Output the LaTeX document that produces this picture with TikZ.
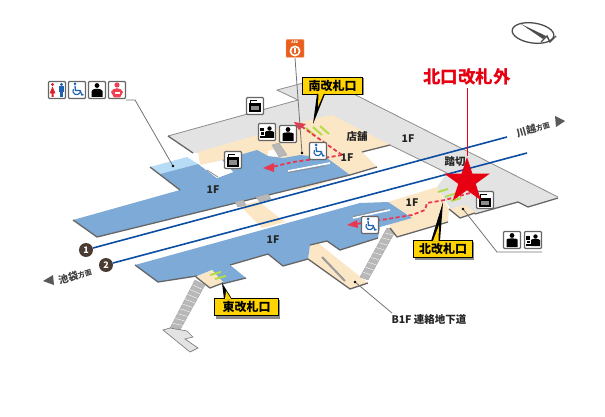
\documentclass[tikz,border=0pt]{standalone}
\usepackage{fontspec}
\setmainfont{Noto Sans CJK JP}
\usetikzlibrary{shapes.geometric,shapes.misc,arrows.meta}
\definecolor{fblue}{HTML}{7DAAD6}
\definecolor{fbeige}{HTML}{FBE6C6}
\definecolor{fgray}{HTML}{E3E3E3}
\definecolor{flight}{HTML}{B6DDF5}
\definecolor{fedge}{HTML}{666666}
\definecolor{track}{HTML}{0B4DA2}
\definecolor{dark}{HTML}{4A3B33}
\definecolor{rdash}{HTML}{E8384F}
\definecolor{sred}{HTML}{E60012}
\definecolor{lab}{HTML}{FFD400}
\definecolor{gate}{HTML}{B5DC4A}
\definecolor{wblue}{HTML}{1F62B0}
\definecolor{aed}{HTML}{E8601C}
\definecolor{wcred}{HTML}{D8232A}
\definecolor{pinkred}{HTML}{EE4050}
\tikzset{
 x=1pt,y=-1pt,
 edge/.style={draw=fedge,line width=1.3pt,line join=round},
 thinedge/.style={draw=black!45,line width=.8pt},
 iconnode/.style={draw=black!60,fill=white,line width=1.1pt,rounded corners=1pt,minimum size=17pt,inner sep=0pt},
 leader/.style={draw=black!55,line width=.8pt},
 floorlabel/.style={font=\bfseries\fontsize{10.5}{11}\selectfont,text=black!85,inner sep=0pt},
 gatelabel/.style={draw=black,line width=1pt,fill=lab,font=\bfseries\fontsize{12}{12}\selectfont,inner sep=0pt,minimum height=17pt},
 labshadow/.style={fill=black!45},
 route/.style={draw=rdash,line width=1.8pt,dash pattern=on 4pt off 2.5pt},
 routetip/.style={fill=rdash},
 gatebar/.style={draw=gate,line width=2pt},
 dirlabel/.style={font=\bfseries\fontsize{10}{10}\selectfont,text=black!75,inner sep=0pt},
 stairs/.style={fill=black!28,draw=black!35,line width=.4pt},
 tracknum/.style={circle,fill=dark,text=white,font=\bfseries\fontsize{9}{9}\selectfont,inner sep=0pt,minimum size=14pt},
}
\newcommand\iconlocker[3]{\node[iconnode] (#1) at (#2,#3) {};
 \begin{scope}[shift={(#2,#3)}]
 \fill[black] (-5,-6) rectangle (2,-4.6); \fill[black] (-5,-6) rectangle (-3.6,-2);
 \fill[black] (-6,-2.5) rectangle (6,6.5);
 \fill[black!45] (-4,.5) rectangle (4,4.5);
 \end{scope}}
\newcommand\iconperson[3]{\node[iconnode] (#1) at (#2,#3) {};
 \begin{scope}[shift={(#2,#3)}]
 \fill[black] (0,-4.5) circle (2.4);
 \fill[black] (-5.5,7) -- (-5.5,-.5) .. controls (-5,-2) and (5,-2) .. (5.5,-.5) -- (5.5,7) -- cycle;
 \end{scope}}
\newcommand\iconservice[3]{\node[iconnode] (#1) at (#2,#3) {};
 \begin{scope}[shift={(#2,#3)}]
 \fill[black] (2.5,-3.5) circle (2.2);
 \fill[black] (-2,6) -- (-2,0) .. controls (-1.5,-1.5) and (6,-1.5) .. (7,0) -- (7,6) -- cycle;
 \fill[black] (-7,-4) rectangle (-3.5,-.5);
 \fill[black] (-6,.5) rectangle (-3,3);
 \fill[black] (-7,4) rectangle (-2,6);
 \end{scope}}
\newcommand\iconwheel[3]{\node[iconnode] (#1) at (#2,#3) {};
 \begin{scope}[shift={(#2,#3)}]
 \fill[wblue] (-2,-6) circle (1.5);
 \draw[wblue,line width=1.3pt] (-2,-4) -- (-1.5,.5) -- (3,.5) -- (5,5) -- (6.5,4.5);
 \draw[wblue,line width=1.1pt] (-3.6,-1) arc[start angle=210,end angle=-5,radius=3.8];
 \end{scope}}
\newcommand\yellowlabel[6]{%
 \fill[labshadow] (#2+1.5,#3+1.5) rectangle (#4+1.5,#5+1.5);
 \node[gatelabel,minimum width=#4-#2,anchor=north west] (#1) at (#2,#3) {#6};}
\begin{document}
\begin{tikzpicture}
\useasboundingbox (0,0) rectangle (605,417);
% gray north/crossing
\fill[fgray] (168,136) -- (298,100) -- (277,90) -- (322,78) -- (558,197) -- (528,206) -- (518,202) -- (475,213) -- (460,218) -- (450,208) -- (437,187) -- (447,173) -- (390,145) -- (362,152) -- (193,153) -- cycle;
\draw[thinedge] (168,136) -- (298,100) -- (277,90) -- (322,78) -- (558,197);
\draw[edge] (168,136) -- (193,153);
\draw[edge] (558,198) -- (528,207) -- (518,202) -- (475,214);
\draw[thinedge] (390,145) -- (447,173);
% north beige
\fill[fbeige] (198,152) -- (317,118) -- (332,115) -- (390,145) -- (362,152) -- (377,167) -- (350,175) -- (300,190) -- (217,180) -- cycle;
\draw[edge] (390,145) -- (362,152);
\draw[edge] (377,167) -- (350,175);
% north blue
\fill[flight] (150,167) -- (187,157) -- (198,164) -- (160,174) -- cycle;
\fill[fblue] (160,174) -- (198,164) -- (217,178) -- (233,172) -- (222,160) -- (257,150) -- (268,156) -- (283,158) -- (300,155) -- (327,158) -- (350,175) -- (97,237) -- (73,220) -- (180,190) -- cycle;
\draw[edge] (150,167) -- (180,190);
\draw[edge] (73,220) -- (97,237) -- (350,175);
\fill[white] (200,165) -- (217,178) -- (233,172) -- (222,160) -- cycle;
\fill[fbeige] (198,152) -- (222,160) -- (200,165) -- cycle;
\draw[thinedge] (207,170) -- (218,177);
\fill[white] (268,151) -- (281,148) -- (283,157) -- (268,156) -- cycle;
\fill[stairs] (272,145) -- (279,143) -- (287,155) -- (279,157) -- cycle;
\draw[draw=white,line width=1.6pt] (288,171) -- (330,163);
\draw[thinedge] (288,172.5) -- (325,166);
% link beige
\fill[fbeige] (240,206) -- (258,201) -- (285,222) -- (262,228) -- cycle;
\fill[stairs] (235,202) -- (243,200) -- (246,205) -- (238,207) -- cycle;
\fill[stairs] (256,197) -- (268,194) -- (271,199) -- (260,202) -- cycle;
% B1F passage
\fill[fbeige] (310,245) -- (318,243) -- (368,283) -- (350,289) -- (308,259) -- cycle;
\draw[edge] (308,259) -- (350,289) -- (368,283);
\draw[black!40,line width=2pt] (322,257) -- (345,281);
\fill[stairs] (387,228) -- (396,230) -- (368,280) -- (360,277) -- cycle;
\foreach \t in {.1,.2,...,.9} \draw[white,line width=.35pt] ({387+\t*(360-387)},{228+\t*(277-228)}) -- ({396+\t*(368-396)},{230+\t*(280-230)});
% south beige
\fill[fbeige] (388,202) -- (437,187) -- (449,209) -- (448,222) -- (397,237) -- (390,228) -- cycle;
\fill[fbeige] (449,209) -- (465,205) -- (475,212) -- (460,218) -- cycle;
\draw[edge] (449,209) -- (460,218) -- (475,213);
\draw[edge] (448,222) -- (397,237) -- (390,228);
% south blue
\fill[fblue] (135,265) -- (360,203) -- (388,202) -- (412,218) -- (380,227) -- (378,238) -- (340,250) -- (327,241) -- (310,245) -- (308,259) -- (283,266) -- (268,254) -- (230,265) -- (246,278) -- (222,284) -- (212,270) -- (197,276) -- (158,282) -- cycle;
\draw[edge] (135,265) -- (158,282) -- (197,276);
\draw[edge] (230,265) -- (268,254) -- (283,266) -- (308,259);
\draw[edge] (310,245) -- (327,241) -- (340,250) -- (378,238);
\draw[edge] (222,284) -- (246,278);
\draw[draw=white,line width=1.6pt] (353,218) -- (390,210);
\draw[thinedge] (353,216.5) -- (385,209);
% east gate
\fill[fbeige] (196,277) -- (212,270) -- (223,282) -- (210,288) -- cycle;
\draw[edge] (196,277) -- (210,288) -- (223,283);
\fill[stairs] (195,280) -- (205,285) -- (180,330) -- (170,328) -- cycle;
\foreach \t in {.1,.2,...,.9} \draw[white,line width=.35pt] ({195+\t*(170-195)},{280+\t*(328-280)}) -- ({205+\t*(180-205)},{285+\t*(330-285)});
\fill[fgray,draw=black!50,line width=.7pt] (163,330) -- (170,328) -- (187,331) -- (193,337) -- (185,339) -- (198,348) -- (190,352) -- cycle;
% tracks
\coordinate (t1a) at (93,248); \coordinate (t1b) at (507,137);
\coordinate (t2a) at (113,263); \coordinate (t2b) at (527,153);
\draw[track,line width=1.6pt] (t1a) -- (t1b);
\draw[track,line width=1.6pt] (t2a) -- (t2b);
\node[tracknum] (n1) at (86,250) {1};
\node[tracknum] (n2) at (106,265) {2};
% gates
\foreach \i in {0,1,2} \draw[gatebar] ({306+\i*7},{128+\i*-1}) -- ({315+\i*7},{136+\i*-1});
\draw[gatebar] (438,192) -- (448,189);\draw[gatebar] (445,197) -- (457,193);\draw[gatebar] (451,201) -- (461,198);
\draw[gatebar] (210,275) -- (221,272);\draw[gatebar] (215,279) -- (226,276);
% routes
\coordinate (r1a) at (342,155); \coordinate (r1c) at (301,126);
\coordinate (r2) at (330,157); \coordinate (r3) at (272,167);
\draw[route] (r1a) -- (r1c);
\draw[route] (r1a) -- (r2) -- (293,162) -- (r3);
\fill[routetip] (263,168) -- (274,163) -- (274,172) -- cycle;
\fill[routetip] (294,122) -- (306,124) -- (299,130) -- cycle;
\coordinate (s1) at (470,193);
\draw[route] (s1) -- (445,200) -- (427,203) -- (425,210) -- (412,215) -- (356,224);
\fill[routetip] (347,225) -- (357,220) -- (358,228) -- cycle;
% leaders
\coordinate (rl) at (173,166); \coordinate (rlk) at (135,100); \coordinate (rls) at (126,100);
\draw[leader] (rls) -- (rlk) -- (rl); \fill (rl) circle (1.3);
\coordinate (al) at (302,153); \coordinate (alt) at (295,58);
\draw[leader] (alt) -- (al); \fill (al) circle (1.3);
\coordinate (sl) at (463,209); \coordinate (slk) at (497,252); \coordinate (sle) at (542,252);
\draw[leader] (sl) -- (slk) -- (sle); \fill (sl) circle (1.3);
\coordinate (bl) at (355,282); \coordinate (ble) at (392,313);
\draw[leader] (bl) -- (ble); \fill (bl) circle (1.3);
% icons: restroom row
\node[iconnode] (ir1) at (57,90) {};
\fill[wcred] (52.5,84.5) circle (1.7); \fill[wcred] (52.5,86.5) -- (49.5,93.5) -- (51.5,93.5) -- (51.5,97) -- (53.5,97) -- (53.5,93.5) -- (55.5,93.5) -- cycle;
\fill[wblue] (61.5,84.5) circle (1.7); \fill[wblue] (59,86.5) rectangle (64,92); \fill[wblue] (60,92) rectangle (63,97);
\iconwheel{ir2}{77}{90}
\node[iconnode] (ir3) at (97,90) {};
\fill[black] (97,85.5) circle (2.4); \fill[black] (91.5,97) -- (91.5,91) .. controls (92,88) and (102,88) .. (102.5,91) -- (102.5,97) -- cycle;
\node[iconnode] (ir4) at (117,90) {};
\fill[pinkred] (117,85) circle (2.6); \fill[pinkred] (111,92) .. controls (113,87) and (121,87) .. (123,92) -- (120,97.5) -- (114,97.5) -- cycle;
\fill[white] (114.5,92) rectangle (119.5,94.5);
\iconlocker{il1}{255}{106}
\iconlocker{il2}{233}{160}
\iconlocker{il3}{485}{200}
\iconservice{is1}{267}{132}
\iconperson{ip1}{288}{134}
\iconwheel{iw1}{318}{151}
\iconwheel{iw2}{370}{225}
\iconperson{ip2}{512}{240}
\iconservice{is2}{533}{240}
% AED
\node[draw=aed!60,fill=aed,rounded corners=1pt,minimum size=18pt,inner sep=0pt] (aedbox) at (295,48.5) {};
\node[font=\bfseries\fontsize{3.5}{4}\selectfont,text=white,inner sep=0pt] (aedtxt) at (295,42.5) {AED};
\fill[white] (295,51) circle (5.5); \fill[aed] (295,51) circle (3.6); \fill[white] (294,48.5) rectangle (296,53);
% compass
\draw[black!70,line width=1.3pt,rotate around={-8:(533,33)}] (533,33) ellipse (21 and 10);
\fill[black!70] (521,24) -- (546,36) -- (543,39) -- cycle;
\draw[black!70,line width=1.4pt] (541,42) -- (547,36) -- (550,42) -- (556,36);
% labels
\node[floorlabel] (f1) at (213,190) {1F};
\node[floorlabel] (f2) at (273,240) {1F};
\node[floorlabel] (f3) at (347,158) {1F};
\node[floorlabel] (f4) at (408,139) {1F};
\node[floorlabel] (f5) at (412,203) {1F};
\node[floorlabel] (shop) at (357,137) {店舗};
\node[floorlabel] (cross) at (455,162) {踏切};
\node[font=\bfseries\fontsize{10.5}{11}\selectfont,text=black!85,inner sep=0pt] (b1f) at (429,319.5) {B1F 連絡地下道};
\node[dirlabel,rotate=16] (kawa) at (533,129) {川越{\fontsize{7}{7}\selectfont 方面}};
\fill[black!65] (555,116) -- (565,121) -- (556,127) -- cycle;
\node[dirlabel,rotate=16] (ike) at (75,276) {池袋{\fontsize{7}{7}\selectfont 方面}};
\fill[black!65] (43,281) -- (53,275) -- (54,285) -- cycle;
% gate labels
\coordinate (nt) at (313,124); \coordinate (st) at (443,202); \coordinate (et) at (222,283);
\yellowlabel{lS}{302}{77}{362}{94}{南改札口}
\fill[black] (nt) -- (317,94) -- (325,94) -- cycle; \fill[lab] (318.5,93) -- (324,93) -- (318,107) -- cycle;
\yellowlabel{lN}{413}{240}{472}{258}{北改札口}
\fill[black] (st) -- (431,241) -- (440,241) -- cycle; \fill[lab] (433,241) -- (438.5,241) -- (439,225) -- cycle;
\yellowlabel{lE}{214}{298}{278}{317}{東改札口}
\fill[black] (et) -- (224,299) -- (232,299) -- cycle; \fill[lab] (225,299) -- (231,299) -- (226,291) -- cycle;
% red star
\node[star,star points=5,star point ratio=2.618,fill=sred,inner sep=0pt,minimum size=48pt] (star) at (467,181) {};
\node[font=\bfseries\fontsize{17.5}{18}\selectfont,text=sred,inner sep=0pt] (kita) at (467,77) {北口改札外};
\draw[sred,line width=.8pt] (kita.south) ++(0,2) -- (star.north);
\end{tikzpicture}
\end{document}
